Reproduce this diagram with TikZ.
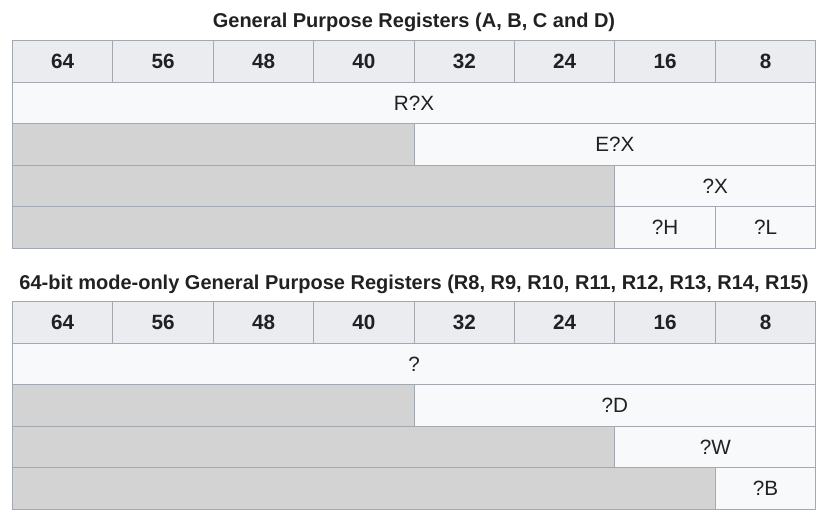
\documentclass[tikz,border=0pt]{standalone}
\usepackage{fontspec}
\setmainfont{Liberation Sans}
\definecolor{bordc}{HTML}{A2A9B1}
\definecolor{headc}{HTML}{EAECF0}
\definecolor{cellc}{HTML}{F8F9FA}
\definecolor{grayc}{HTML}{D3D3D3}
\definecolor{txtc}{HTML}{202122}
\begin{document}
\begin{tikzpicture}[x=0.75pt,y=-0.75pt,
  hcell/.style={draw=bordc,fill=headc,line width=0.75pt},
  vcell/.style={draw=bordc,fill=cellc,line width=0.75pt},
  gcell/.style={draw=bordc,fill=grayc,line width=0.75pt},
  htxt/.style={text=txtc,font=\fontsize{15.5}{18}\selectfont\bfseries},
  ctxt/.style={text=txtc,font=\fontsize{15.5}{18}\selectfont},
  ttl/.style={text=txtc,font=\fontsize{15}{18}\selectfont\bfseries}]
\useasboundingbox (0,0) rectangle (837,526);
\def\cx#1{12.5+100.4*#1}
% ---------- Table 1 ----------
\node[ttl] (t1) at (414,22) {General Purpose Registers (A, B, C and D)};
\foreach \i/\l in {0/64,1/56,2/48,3/40,4/32,5/24,6/16,7/8}{
  \draw[hcell] ({12.5+100.4*\i},40.5) rectangle ({12.5+100.4*(\i+1)},82);
  \node[htxt] (ha\i) at ({12.5+100.4*(\i+0.5)},61.5) {\l};
}
\draw[vcell] (12.5,82) rectangle (815.7,123.5);
\node[ctxt] (rx) at (414,103) {R?X};
\draw[gcell] (12.5,123.5) rectangle (414.1,165);
\draw[vcell] (414.1,123.5) rectangle (815.7,165);
\node[ctxt] (ex) at (614.9,144.5) {E?X};
\draw[gcell] (12.5,165) rectangle (614.9,206.5);
\draw[vcell] (614.9,165) rectangle (815.7,206.5);
\node[ctxt] (x) at (715.3,186) {?X};
\draw[gcell] (12.5,206.5) rectangle (614.9,248);
\draw[vcell] (614.9,206.5) rectangle (715.3,248);
\draw[vcell] (715.3,206.5) rectangle (815.7,248);
\node[ctxt] (h) at (665.1,227.5) {?H};
\node[ctxt] (l) at (765.5,227.5) {?L};
% ---------- Table 2 ----------
\node[ttl] (t2) at (414,284) {64-bit mode-only General Purpose Registers (R8, R9, R10, R11, R12, R13, R14, R15)};
\foreach \i/\l in {0/64,1/56,2/48,3/40,4/32,5/24,6/16,7/8}{
  \draw[hcell] ({12.5+100.4*\i},301.5) rectangle ({12.5+100.4*(\i+1)},343);
  \node[htxt] (hb\i) at ({12.5+100.4*(\i+0.5)},322.5) {\l};
}
\draw[vcell] (12.5,343) rectangle (815.7,384.5);
\node[ctxt] (q) at (414,364) {?};
\draw[gcell] (12.5,384.5) rectangle (414.1,426);
\draw[vcell] (414.1,384.5) rectangle (815.7,426);
\node[ctxt] (d) at (614.9,405.5) {?D};
\draw[gcell] (12.5,426) rectangle (614.9,467.5);
\draw[vcell] (614.9,426) rectangle (815.7,467.5);
\node[ctxt] (w) at (715.3,447) {?W};
\draw[gcell] (12.5,467.5) rectangle (715.3,509);
\draw[vcell] (715.3,467.5) rectangle (815.7,509);
\node[ctxt] (b) at (765.5,488.5) {?B};
\end{tikzpicture}
\end{document}
